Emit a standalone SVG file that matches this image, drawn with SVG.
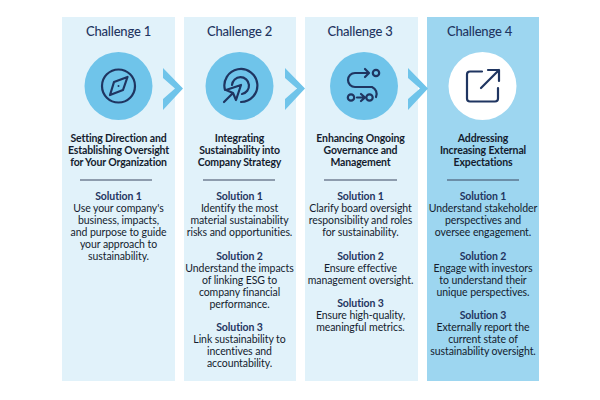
<svg xmlns="http://www.w3.org/2000/svg" width="600" height="400" viewBox="0 0 600 400">
<style>
text{font-family:"Lato","Liberation Sans",sans-serif;text-anchor:middle;fill:#141c2e}
.t{font-size:13px;letter-spacing:-0.2px;fill:#1f3561;font-weight:500}
.h{font-size:10.5px;letter-spacing:-0.14px;font-weight:700;fill:#141c2e}
.s{font-size:10.5px;letter-spacing:-0.08px;font-weight:700;fill:#1f3561}
.b{font-size:10.5px;letter-spacing:-0.08px}
.p{fill:#e1f2fa}
.c{fill:#6fc4ea}
.r{stroke:#3a4660;stroke-width:1;fill:none}
.i{fill:none;stroke:#1f3561;stroke-width:2.2;stroke-linecap:round;stroke-linejoin:round}
.a{fill:#6fc4ea}
</style>
<rect width="600" height="400" fill="#fff"/>
<g id="col1">
<rect class="p" x="62" y="17" width="113" height="364"/>
<text class="t" x="118.500" y="36">Challenge 1</text>
<circle class="c" cx="118.500" cy="86" r="34"/>
<circle class="i" cx="118.500" cy="86" r="16.500"/>
<path class="i" d="M127.500 77 L123 90 L110 95 L114 82 Z"/>
<circle cx="118.500" cy="86" r="1" fill="#1f3561"/>
<text class="h" x="118.500" y="142">Setting Direction and</text>
<text class="h" x="118.500" y="154">Establishing Oversight</text>
<text class="h" x="118.500" y="166">for Your Organization</text>
<line class="r" x1="80" y1="180" x2="152" y2="180"/>
<text class="s" x="118.500" y="200">Solution 1</text>
<text class="b" x="118.500" y="212">Use your company's</text>
<text class="b" x="118.500" y="224">business, impacts,</text>
<text class="b" x="118.500" y="236">and purpose to guide</text>
<text class="b" x="118.500" y="248">your approach to</text>
<text class="b" x="118.500" y="260">sustainability.</text>
</g>
<g id="col2">
<rect class="p" x="184" y="17" width="112" height="364"/>
<text class="t" x="239.500" y="36">Challenge 2</text>
<circle class="c" cx="239.500" cy="86" r="34"/>
<path class="i" d="M225 90 A16.500 16.500 0 1 1 241 102"/>
<path class="i" d="M232 85 A8.500 8.500 0 1 1 242 94"/>
<path class="i" d="M241 85 L236 100 L233 93 L226 90 Z M232 94 L224 102"/>
<text class="h" x="239.500" y="142">Integrating</text>
<text class="h" x="239.500" y="154">Sustainability into</text>
<text class="h" x="239.500" y="166">Company Strategy</text>
<line class="r" x1="203" y1="180" x2="275" y2="180"/>
<text class="s" x="239.500" y="200">Solution 1</text>
<text class="b" x="239.500" y="212">Identify the most</text>
<text class="b" x="239.500" y="224">material sustainability</text>
<text class="b" x="239.500" y="236">risks and opportunities.</text>
<text class="s" x="239.500" y="260">Solution 2</text>
<text class="b" x="239.500" y="272">Understand the impacts</text>
<text class="b" x="239.500" y="284">of linking ESG to</text>
<text class="b" x="239.500" y="296">company financial</text>
<text class="b" x="239.500" y="308">performance.</text>
<text class="s" x="239.500" y="331">Solution 3</text>
<text class="b" x="239.500" y="343">Link sustainability to</text>
<text class="b" x="239.500" y="355">incentives and</text>
<text class="b" x="239.500" y="367">accountability.</text>
</g>
<g id="col3">
<rect class="p" x="305" y="17" width="113" height="364"/>
<text class="t" x="360" y="36">Challenge 3</text>
<circle class="c" cx="364" cy="86" r="34"/>
<path class="i" d="M368 73 H355 A7 7 0 0 0 355 87 H372 A7.500 7.500 0 0 1 376 97"/>
<path class="i" d="M365 69 L369 73 L365 77 M357 97.500 H364 M361 94 L365 97.500 L361 101"/>
<circle class="i" cx="376" cy="73" r="3.200"/>
<circle class="i" cx="351" cy="97.500" r="3.200"/>
<circle class="i" cx="369.500" cy="97.500" r="3.200"/>
<text class="h" x="360.500" y="142">Enhancing Ongoing</text>
<text class="h" x="360.500" y="154">Governance and</text>
<text class="h" x="360.500" y="166">Management</text>
<line class="r" x1="324" y1="180" x2="397" y2="180"/>
<text class="s" x="360.500" y="200">Solution 1</text>
<text class="b" x="360.500" y="212">Clarify board oversight</text>
<text class="b" x="360.500" y="224">responsibility and roles</text>
<text class="b" x="360.500" y="236">for sustainability.</text>
<text class="s" x="360.500" y="260">Solution 2</text>
<text class="b" x="360.500" y="272">Ensure effective</text>
<text class="b" x="360.500" y="284">management oversight.</text>
<text class="s" x="360.500" y="307">Solution 3</text>
<text class="b" x="360.500" y="319">Ensure high-quality,</text>
<text class="b" x="360.500" y="331">meaningful metrics.</text>
</g>
<g id="col4">
<rect x="427" y="17" width="112" height="364" fill="#9dd6f0"/>
<text class="t" x="479.500" y="36">Challenge 4</text>
<circle cx="482.500" cy="86" r="34" fill="#fff"/>
<path class="i" d="M482 71.500 H470 Q467 71.500 467 74.500 V98.500 Q467 101.500 470 101.500 H495 Q498 101.500 498 98.500 V88"/>
<path class="i" d="M481 88 L499 70 M488 70 H499 V81"/>
<text class="h" x="483" y="142">Addressing</text>
<text class="h" x="483" y="154">Increasing External</text>
<text class="h" x="483" y="166">Expectations</text>
<line class="r" x1="447" y1="180" x2="519" y2="180"/>
<text class="s" x="483" y="200">Solution 1</text>
<text class="b" x="483" y="212">Understand stakeholder</text>
<text class="b" x="483" y="224">perspectives and</text>
<text class="b" x="483" y="236">oversee engagement.</text>
<text class="s" x="483" y="260">Solution 2</text>
<text class="b" x="483" y="272">Engage with investors</text>
<text class="b" x="483" y="284">to understand their</text>
<text class="b" x="483" y="296">unique perspectives.</text>
<text class="s" x="483" y="319">Solution 3</text>
<text class="b" x="483" y="331">Externally report the</text>
<text class="b" x="483" y="343">current state of</text>
<text class="b" x="483" y="355">sustainability oversight.</text>
</g>
<g id="connectors">
<path class="a" d="M163 68 L183 88.500 L163 110 V99 L175 88.500 L163 78 Z"/>
<path class="a" d="M285 68 L305 88.500 L285 110 V99 L297 88.500 L285 78 Z"/>
<path class="a" d="M408 68 L428 88.500 L408 110 V99 L420 88.500 L408 78 Z"/>
</g>
</svg>
